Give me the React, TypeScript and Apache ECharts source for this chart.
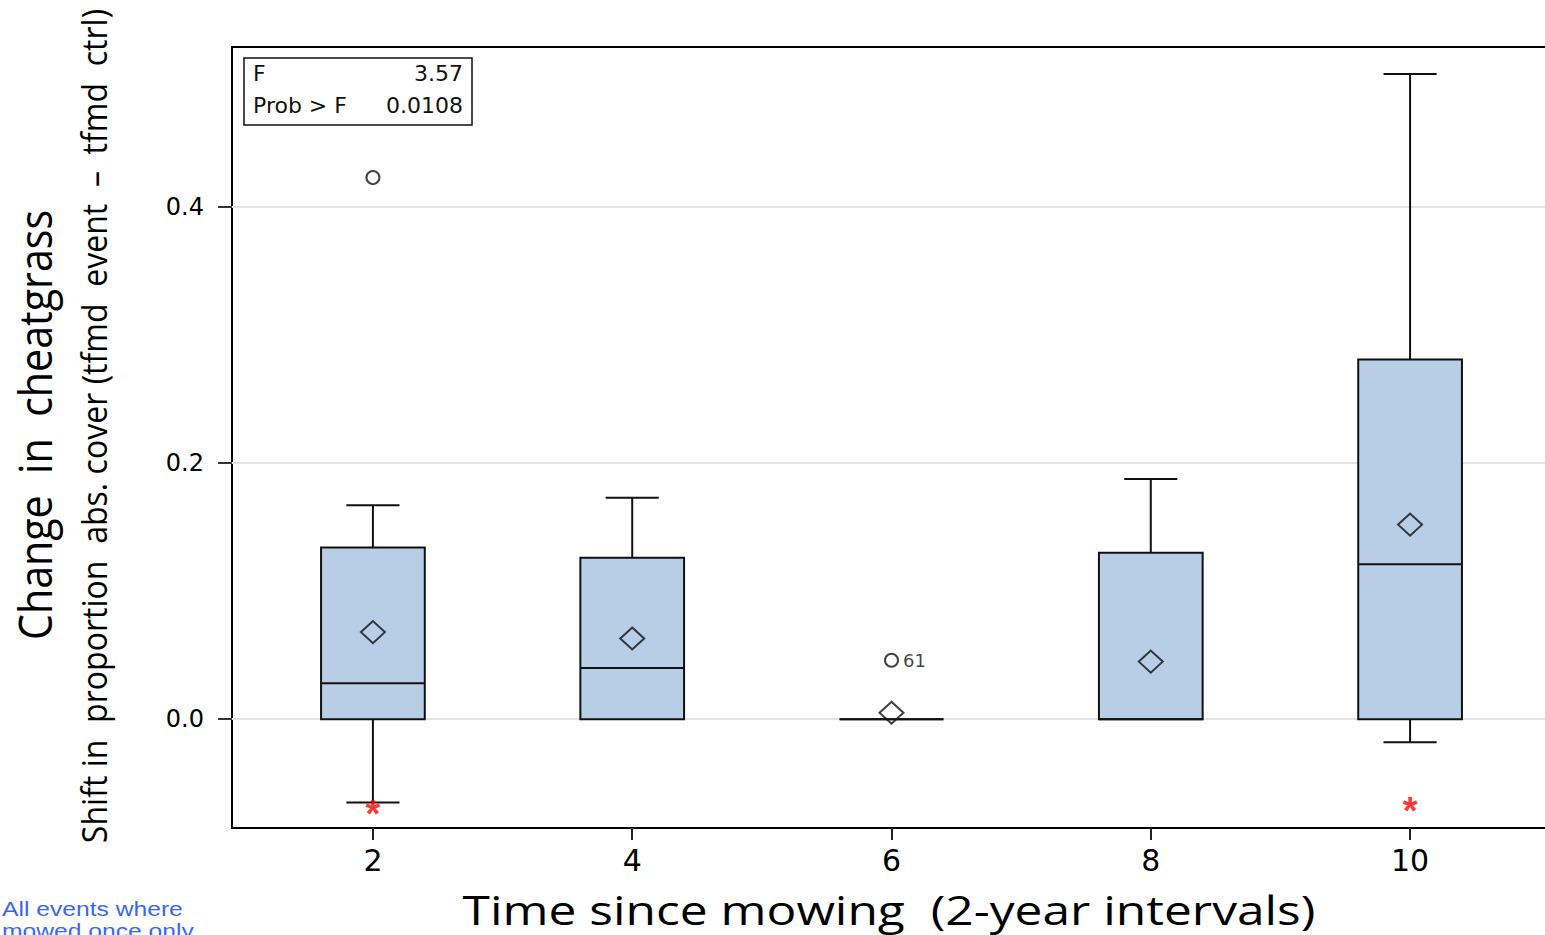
import React, { useEffect, useRef } from "react";
import * as echarts from "echarts";

// ---- data ----
const groups = [2, 4, 6, 8, 10];
const whiskerLow = [-0.065, 0, 0, 0, -0.018];
const q1 = [0, 0, 0, 0, 0];
const median = [0.028, 0.04, 0, 0, 0.121];
const q3 = [0.134, 0.126, 0, 0.13, 0.281];
const whiskerHigh = [0.167, 0.173, 0, 0.1875, 0.504];
const means = [0.068, 0.063, 0.005, 0.045, 0.152];
const outlierX = [2, 6];
const outlierY = [0.423, 0.046];
const outlierLabels = ["", "61"];
const extremeX = [2, 10];
const extremeY = [-0.0695, -0.067];
const xTicks = [2, 4, 6, 8, 10];
const yTicks = [0, 0.2, 0.4];
const statNames = ["F", "Prob > F"];
const statValues = ["3.57", "0.0108"];
const noteLines = ["All events where", "mowed once only"];

const BOX_W = 0.8;
const CAP_W = 0.41;

function measure(text: string, font: string): number {
  const c = document.createElement("canvas").getContext("2d");
  if (!c) return 1;
  c.font = font;
  return c.measureText(text).width;
}

export default function App() {
  const ref = useRef<HTMLDivElement>(null);
  useEffect(() => {
    if (!ref.current) return;
    const chart = echarts.init(ref.current, null, { renderer: "svg" });

    const yTitle1 = "Change  in  cheatgrass";
    const yTitle2 = "Shift in  proportion  abs. cover (tfmd  event  \u2013  tfmd  ctrl)";
    const xTitle = "Time since mowing  (2-year intervals)";
    const s1 = 430 / measure(yTitle1, "46px 'Open Sans'");
    const s2 = 835 / measure(yTitle2, "34px 'Open Sans'");
    const s3 = 853 / measure(xTitle, "40px 'Open Sans'");
    const s4 = 181 / measure(noteLines[0], "20px 'Liberation Sans'");

    const boxData = groups.map((g, i) => [g, whiskerLow[i], q1[i], median[i], q3[i], whiskerHigh[i]]);

    chart.setOption({
      animation: false,
      backgroundColor: "#fff",
      grid: {
        left: 232,
        top: 47,
        width: 1319,
        height: 781,
        show: true,
        borderColor: "#000",
        borderWidth: 2,
        backgroundColor: "transparent",
      },
      xAxis: {
        type: "value",
        min: 0.913,
        max: 11.087,
        axisLine: { show: false, onZero: false },
        axisTick: {
          show: true,
          length: 12,
          lineStyle: { color: "#222", width: 2 },
          customValues: xTicks,
        },
        axisLabel: {
          customValues: xTicks,
          color: "#000",
          fontSize: 30,
          fontFamily: "DejaVu Sans",
          margin: 17,
        },
        splitLine: { show: false },
      },
      yAxis: {
        type: "value",
        min: -0.085,
        max: 0.525,
        axisLine: { show: false, onZero: false },
        axisTick: {
          show: true,
          length: 14,
          lineStyle: { color: "#333", width: 2 },
          customValues: yTicks,
        },
        axisLabel: {
          customValues: yTicks,
          color: "#000",
          fontSize: 24,
          fontFamily: "DejaVu Sans",
          margin: 28,
          formatter: (v: number) => v.toFixed(1),
        },
        splitLine: { show: true, lineStyle: { color: "#e3e3e3", width: 2 } },
      },
      series: [
        {
          type: "custom",
          data: boxData,
          z: 3,
          renderItem: (params: any, api: any) => {
            const x = api.value(0);
            const lo = api.value(1);
            const a = api.value(2);
            const m = api.value(3);
            const b = api.value(4);
            const hi = api.value(5);
            const hw = api.size([BOX_W / 2, 0])[0];
            const cw = api.size([CAP_W / 2, 0])[0];
            const pLo = api.coord([x, lo]);
            const pA = api.coord([x, a]);
            const pM = api.coord([x, m]);
            const pB = api.coord([x, b]);
            const pHi = api.coord([x, hi]);
            const line = { stroke: "#111", lineWidth: 2 };
            const children: any[] = [];
            if (hi > b) {
              children.push({ type: "line", shape: { x1: pHi[0], y1: pHi[1], x2: pB[0], y2: pB[1] }, style: line });
              children.push({ type: "line", shape: { x1: pHi[0] - cw, y1: pHi[1], x2: pHi[0] + cw, y2: pHi[1] }, style: line });
            }
            if (lo < a) {
              children.push({ type: "line", shape: { x1: pA[0], y1: pA[1], x2: pLo[0], y2: pLo[1] }, style: line });
              children.push({ type: "line", shape: { x1: pLo[0] - cw, y1: pLo[1], x2: pLo[0] + cw, y2: pLo[1] }, style: line });
            }
            children.push({
              type: "rect",
              shape: { x: pB[0] - hw, y: pB[1], width: hw * 2, height: pA[1] - pB[1] },
              style: { fill: "#b8cde6", stroke: "#111", lineWidth: 2 },
            });
            children.push({ type: "line", shape: { x1: pM[0] - hw, y1: pM[1], x2: pM[0] + hw, y2: pM[1] }, style: line });
            return { type: "group", children };
          },
        },
        {
          type: "scatter",
          data: groups.map((g, i) => [g, means[i]]),
          symbol: "diamond",
          symbolSize: [24, 22],
          z: 5,
          itemStyle: { color: "rgba(0,0,0,0)", borderColor: "#111", borderWidth: 2 },
        },
        {
          type: "scatter",
          data: outlierX.map((x, i) => ({ value: [x, outlierY[i]], name: outlierLabels[i] })),
          symbol: "circle",
          symbolSize: 13,
          z: 5,
          itemStyle: { color: "rgba(0,0,0,0)", borderColor: "#111", borderWidth: 2 },
          label: {
            show: true,
            position: "right",
            distance: 4,
            formatter: (p: any) => p.name,
            color: "#111",
            fontSize: 18,
            fontFamily: "DejaVu Sans",
          },
        },
        {
          type: "scatter",
          data: extremeX.map((x, i) => [x, extremeY[i]]),
          symbolSize: 0,
          z: 6,
          label: {
            show: true,
            position: "inside",
            formatter: "*",
            color: "#ff0000",
            fontSize: 38,
            fontWeight: "bold",
            fontFamily: "Liberation Sans",
            offset: [0, 6],
          },
        },
      ],
      graphic: [
        {
          type: "rect",
          shape: { x: 244, y: 58, width: 228, height: 67 },
          style: { fill: "#fff", stroke: "#111", lineWidth: 1.5 },
          z: 10,
        },
        ...statNames.map((n, i) => ({
          type: "text",
          x: 253,
          y: 73 + i * 32,
          z: 11,
          style: { text: n, fontSize: 22, fontFamily: "DejaVu Sans", fill: "#111", align: "left", verticalAlign: "middle" },
        })),
        ...statValues.map((v, i) => ({
          type: "text",
          x: 463,
          y: 73 + i * 32,
          z: 11,
          style: { text: v, fontSize: 22, fontFamily: "DejaVu Sans", fill: "#111", align: "right", verticalAlign: "middle" },
        })),
        {
          type: "text",
          x: 34,
          y: 425,
          rotation: Math.PI / 2,
          scaleX: s1,
          style: { text: yTitle1, fontSize: 46, fontFamily: "Open Sans", fill: "#000", align: "center", verticalAlign: "middle" },
        },
        {
          type: "text",
          x: 94,
          y: 426,
          rotation: Math.PI / 2,
          scaleX: s2,
          style: { text: yTitle2, fontSize: 34, fontFamily: "Open Sans", fill: "#000", align: "center", verticalAlign: "middle" },
        },
        {
          type: "text",
          x: 889,
          y: 909,
          scaleX: s3,
          style: { text: xTitle, fontSize: 40, fontFamily: "Open Sans", fill: "#000", align: "center", verticalAlign: "middle" },
        },
        ...noteLines.map((t, i) => ({
          type: "text",
          x: 2,
          y: 909 + i * 22,
          scaleX: s4,
          style: { text: t, fontSize: 20, fontFamily: "Liberation Sans", fill: "#3b66f5", align: "left", verticalAlign: "middle" },
        })),
      ],
    });
    return () => chart.dispose();
  }, []);
  return (
    <div style={{ position: "absolute", left: 0, top: 0, width: 1545, height: 935, overflow: "hidden" }}>
      <div ref={ref} style={{ width: 1560, height: 935 }} />
    </div>
  );
}
